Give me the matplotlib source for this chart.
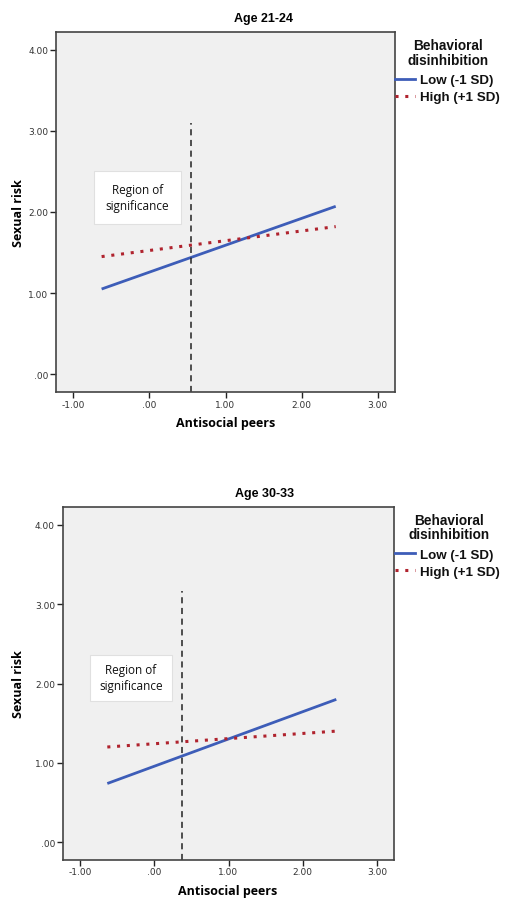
import matplotlib
matplotlib.use("Agg")
import matplotlib.pyplot as plt
from matplotlib.lines import Line2D

# ---- data ----
panel_titles = ["Age 21-24", "Age 30-33"]
x_ends = [-0.63, 2.45]
low_top = [1.05, 2.07]
high_top = [1.45, 1.82]
low_bot = [0.74, 1.80]
high_bot = [1.20, 1.40]
sig_x = [0.54, 0.38]
sig_ytop = [3.10, 3.16]
x_ticks = [-1.0, 0.0, 1.0, 2.0, 3.0]
x_ticklabels = ["-1.00", ".00", "1.00", "2.00", "3.00"]
y_ticks = [0.0, 1.0, 2.0, 3.0, 4.0]
y_ticklabels = [".00", "1.00", "2.00", "3.00", "4.00"]
legend_labels = ["Low (-1 SD)", "High (+1 SD)"]
legend_title = "Behavioral\ndisinhibition"
region_text = "Region of\nsignificance"
# region box centers (data coords)
region_xy = [(-0.16, 2.18), (-0.31, 2.07)]

BLUE = "#3D5DB8"
RED = "#B0232E"
BG = "#F0F0F0"

fig = plt.figure(figsize=(5.12, 9.12), dpi=100)
W, H = 512, 912

def px_axes(l, t, r, b):
    return fig.add_axes([l / W, 1 - b / H, (r - l) / W, (b - t) / H])

axes_px = [(56, 33, 395, 393), (62.7, 508.3, 394.3, 860.7)]
title_px = [(263, 19), (265, 494)]
xlabel_px = [(226, 424), (228, 892)]
ylabel_px = [(18, 213), (18, 684)]
legtitle_px = [(448, 53.5), (449, 528)]
legent_px = [(395, 89.5), (395, 564)]
region_pad = [1.0, 0.75]

series = [(low_top, high_top), (low_bot, high_bot)]

for i in range(2):
    l, t, r, b = axes_px[i]
    ax = px_axes(l, t, r, b)
    ax.set_facecolor(BG)
    ax.set_xlim(-1.23, 3.23)
    ax.set_ylim(-0.22, 4.22)
    lo, hi = series[i]
    ax.plot(x_ends, lo, color=BLUE, lw=2.0, solid_capstyle="butt")
    ax.plot(x_ends, hi, color=RED, lw=2.2, linestyle=(0, (1, 2.2)))
    ax.plot([sig_x[i], sig_x[i]], [-0.22, sig_ytop[i]], color="#222222",
            lw=1.1, linestyle=(0, (4, 3)))
    ax.text(region_xy[i][0], region_xy[i][1], region_text, ha="center",
            va="center", fontsize=8.5, family="Open Sans", color="#111111",
            linespacing=1.3,
            bbox=dict(boxstyle="square,pad=%.2f" % region_pad[i], fc="white",
                      ec="#E0E0E0", lw=0.8))
    ax.set_xticks(x_ticks)
    ax.set_xticklabels(x_ticklabels)
    ax.set_yticks(y_ticks)
    ax.set_yticklabels(y_ticklabels)
    ax.tick_params(axis="both", direction="out", length=4, width=1.0,
                   labelsize=6.5, colors="#222222", pad=1.5)
    ax.tick_params(axis="both", labelcolor="#333333")
    for sp in ax.spines.values():
        sp.set_color("#444444")
        sp.set_linewidth(1.2)
    fig.text(title_px[i][0] / W, 1 - title_px[i][1] / H, panel_titles[i],
             ha="center", va="center", fontsize=9, fontweight="bold",
             family="Liberation Sans")
    fig.text(xlabel_px[i][0] / W, 1 - xlabel_px[i][1] / H, "Antisocial peers",
             ha="center", va="center", fontsize=9, fontweight="bold",
             family="Open Sans")
    fig.text(ylabel_px[i][0] / W, 1 - ylabel_px[i][1] / H, "Sexual risk",
             ha="center", va="center", fontsize=9, fontweight="bold",
             family="Open Sans", rotation=90)
    fig.text(legtitle_px[i][0] / W, 1 - legtitle_px[i][1] / H, legend_title,
             ha="center", va="center", fontsize=9.8, fontweight="bold",
             family="Liberation Sans", linespacing=1.05, color="#111111")
    handles = [Line2D([], [], color=BLUE, lw=2.0),
               Line2D([], [], color=RED, lw=2.2, linestyle=(0, (1, 2.2)))]
    leg = fig.legend(handles, legend_labels,
                     loc="center left",
                     bbox_to_anchor=(legent_px[i][0] / W, 1 - legent_px[i][1] / H),
                     frameon=False, borderaxespad=0, borderpad=0,
                     handlelength=1.5, handletextpad=0.38, labelspacing=0.35,
                     prop={"family": "Liberation Sans", "size": 9.6, "weight": "bold"})
    for txt in leg.get_texts():
        txt.set_color("#111111")

fig.savefig("out.png", dpi=100, facecolor="white")
